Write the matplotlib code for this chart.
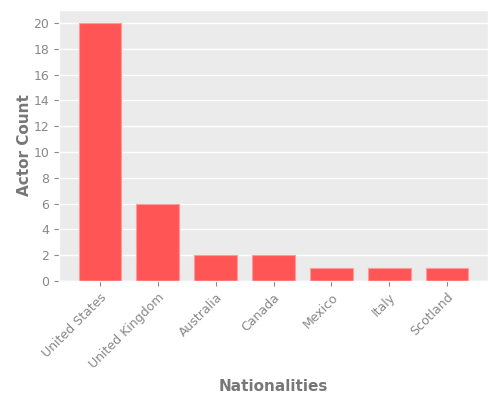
import matplotlib
matplotlib.use("Agg")
from matplotlib import pyplot as plt

plt.style.use("ggplot")

nationalities = ["United States", "United Kingdom", "Australia", "Canada",
                 "Mexico", "Italy", "Scotland"]
actor_counts = [20, 6, 2, 2, 1, 1, 1]

fig, ax = plt.subplots(figsize=(5, 4), dpi=100)
ax.set_facecolor("#ebebeb")

ax.bar(nationalities, actor_counts, width=0.74, color="#ff5555",
       edgecolor="#ff9a9a", linewidth=0.8)

ax.grid(axis="x", visible=False)
ax.grid(axis="y", color="white", linewidth=1)
ax.set_axisbelow(True)
ax.set_yticks(range(0, 21, 2))

ax.set_xlabel("Nationalities", fontweight="bold", color="#777777", fontsize=11, labelpad=6)
ax.set_ylabel("Actor Count", fontweight="bold", color="#777777", fontsize=11, labelpad=1)
ax.tick_params(colors="#888888", labelsize=9)
plt.setp(ax.get_xticklabels(), rotation=45, ha="right", rotation_mode="anchor", color="#888888")
plt.setp(ax.get_yticklabels(), color="#888888")

plt.subplots_adjust(left=0.118, right=0.976, top=0.975, bottom=0.2975)

plt.savefig("out.png")
